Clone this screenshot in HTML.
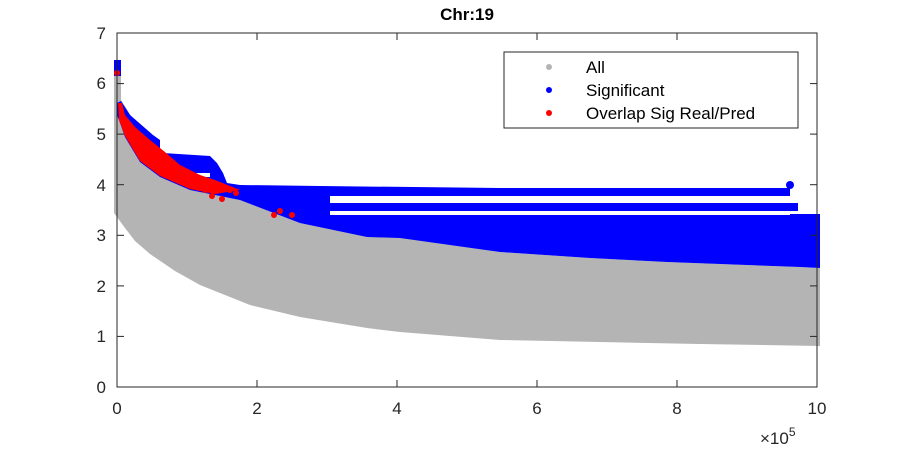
<!DOCTYPE html>
<html><head><meta charset="utf-8"><style>
body{margin:0;background:#fff}
svg{display:block;font-family:"Liberation Sans",sans-serif}
</style></head><body>
<svg width="900" height="450" viewBox="0 0 900 450">
<rect width="900" height="450" fill="#fff"/>
<text x="467" y="20" font-size="17" font-weight="bold" text-anchor="middle" fill="#000">Chr:19</text>
<!-- gray -->
<polygon fill="#b4b4b4" points="114,60 121,60 121,100 140,130 200,185 300,222 400,237 500,252 590,258 667,262 800,267 820,268 820,346 700,344 600,342 500,340 400,332 367,328 300,317 250,305 200,285 175,271 150,254 135,241 125,228 114,213"/>
<!-- blue -->
<polygon fill="#0000ff" points="114,60 121,60 121,76 114,76"/>
<polygon fill="#0000ff" points="117,103 121,101 130,115 153,135 160,140 160,150 163,153 210,156 217,163 223,173 227,183 240,185 320,186 500,188 790,188 790,214 820,214 820,268 800,267 667,262 590,258 500,252 400,238 367,237 300,223 240,200 215,195 190,190 160,177 140,162 125,137 119,120 117,115"/>
<circle cx="790" cy="185" r="4" fill="#0000ff"/>
<rect x="790" y="203" width="8" height="8" fill="#0000ff"/>
<rect x="330" y="196" width="460" height="7" fill="#fff"/>
<rect x="330" y="211" width="460" height="4" fill="#fff"/>
<rect x="790" y="211" width="8" height="3" fill="#fff"/>
<rect x="183" y="173" width="27" height="4" fill="#fff"/>
<!-- red -->
<polygon fill="#ff0000" points="118,103 122,103 125,115 135,127 150,140 165,152 180,165 200,175 215,180 240,190 215,194 190,189 160,176 140,161 125,136 119,120"/>
<g fill="#ff0000">
<circle cx="117" cy="73" r="3"/><circle cx="230" cy="190" r="3"/><circle cx="212" cy="196" r="3"/>
<circle cx="222" cy="199" r="3"/><circle cx="236" cy="193" r="3"/><circle cx="274" cy="215" r="3"/>
<circle cx="280" cy="211" r="3"/><circle cx="292" cy="215" r="3"/><circle cx="205" cy="190" r="3"/>
</g>
<!-- axes -->
<rect x="117" y="33" width="700" height="354" fill="none" stroke="#262626" stroke-width="1"/>
<g stroke="#262626" stroke-width="1">
<line x1="117" y1="387" x2="117" y2="380"/><line x1="257" y1="387" x2="257" y2="380"/><line x1="397" y1="387" x2="397" y2="380"/><line x1="537" y1="387" x2="537" y2="380"/><line x1="677" y1="387" x2="677" y2="380"/><line x1="817" y1="387" x2="817" y2="380"/>
<line x1="117" y1="33" x2="117" y2="40"/><line x1="257" y1="33" x2="257" y2="40"/><line x1="397" y1="33" x2="397" y2="40"/><line x1="537" y1="33" x2="537" y2="40"/><line x1="677" y1="33" x2="677" y2="40"/><line x1="817" y1="33" x2="817" y2="40"/>
<line x1="117" y1="336.4" x2="124" y2="336.4"/><line x1="117" y1="285.9" x2="124" y2="285.9"/><line x1="117" y1="235.3" x2="124" y2="235.3"/><line x1="117" y1="184.7" x2="124" y2="184.7"/><line x1="117" y1="134.1" x2="124" y2="134.1"/><line x1="117" y1="83.6" x2="124" y2="83.6"/>
<line x1="817" y1="336.4" x2="810" y2="336.4"/><line x1="817" y1="285.9" x2="810" y2="285.9"/><line x1="817" y1="235.3" x2="810" y2="235.3"/><line x1="817" y1="184.7" x2="810" y2="184.7"/><line x1="817" y1="134.1" x2="810" y2="134.1"/><line x1="817" y1="83.6" x2="810" y2="83.6"/>
</g>
<g font-size="17" fill="#262626" text-anchor="middle">
<text x="117" y="414">0</text><text x="257" y="414">2</text><text x="397" y="414">4</text><text x="537" y="414">6</text><text x="677" y="414">8</text><text x="817" y="414">10</text>
</g>
<g font-size="17" fill="#262626" text-anchor="end">
<text x="106" y="393">0</text><text x="106" y="342">1</text><text x="106" y="292">2</text><text x="106" y="241">3</text><text x="106" y="191">4</text><text x="106" y="140">5</text><text x="106" y="89">6</text><text x="106" y="39">7</text>
</g>
<text x="760" y="444" font-size="17" fill="#262626">×10<tspan font-size="12" dy="-8">5</tspan></text>
<!-- legend -->
<rect x="504" y="52" width="294" height="76" fill="#fff" stroke="#262626" stroke-width="1"/>
<circle cx="549" cy="67" r="3" fill="#b4b4b4"/>
<circle cx="549" cy="90" r="3" fill="#0000ff"/>
<circle cx="549" cy="113" r="3" fill="#ff0000"/>
<g font-size="17" fill="#000">
<text x="586" y="73">All</text><text x="586" y="96">Significant</text><text x="586" y="119">Overlap Sig Real/Pred</text>
</g>
</svg>
</body></html>
